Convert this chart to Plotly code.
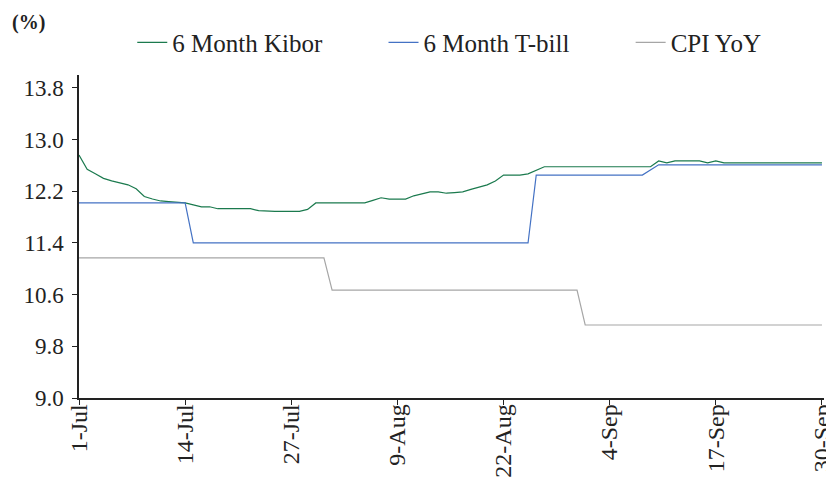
import pandas as pd
import plotly.graph_objects as go

dates = pd.date_range("2019-07-01", "2019-09-30", freq="D")

kibor = [12.76, 12.54, 12.47, 12.40, 12.36, 12.33, 12.30, 12.24, 12.12, 12.08,
         12.05, 12.04, 12.03, 12.02, 11.99, 11.96, 11.96, 11.93, 11.93, 11.93,
         11.93, 11.93, 11.90, 11.89, 11.89, 11.89, 11.89, 11.89, 11.92, 12.02,
         12.02, 12.02, 12.02, 12.02, 12.02, 12.02, 12.06, 12.10, 12.08, 12.08,
         12.08, 12.13, 12.16, 12.19, 12.19, 12.17, 12.18, 12.19, 12.23, 12.27,
         12.30, 12.36, 12.45, 12.45, 12.45, 12.47, 12.52, 12.58, 12.58, 12.58,
         12.58, 12.58, 12.58, 12.58, 12.58, 12.58, 12.58, 12.58, 12.58, 12.58,
         12.58, 12.67, 12.64, 12.67, 12.67, 12.67, 12.67, 12.64, 12.67, 12.64,
         12.64, 12.64, 12.64, 12.64, 12.64, 12.64, 12.64, 12.64, 12.64, 12.64,
         12.64, 12.64]

tbill_dates = ["2019-07-01", "2019-07-14", "2019-07-15", "2019-08-25",
               "2019-08-26", "2019-09-08", "2019-09-10", "2019-09-30"]
tbill = [12.02, 12.02, 11.40, 11.40, 12.45, 12.45, 12.61, 12.61]

cpi_dates = ["2019-07-01", "2019-07-31", "2019-08-01", "2019-08-31",
             "2019-09-01", "2019-09-30"]
cpi = [11.17, 11.17, 10.67, 10.67, 10.13, 10.13]

series_names = ["6 Month Kibor", "6 Month T-bill", "CPI YoY"]

tick_vals = ["2019-07-01", "2019-07-14", "2019-07-27", "2019-08-09",
             "2019-08-22", "2019-09-04", "2019-09-17", "2019-09-30"]
tick_text = ["1-Jul", "14-Jul", "27-Jul", "9-Aug", "22-Aug", "4-Sep", "17-Sep", "30-Sep"]
y_ticks = [9.0, 9.8, 10.6, 11.4, 12.2, 13.0, 13.8]

FONT = "Liberation Serif"
PAD = "\u00a0" * 9

fig = go.Figure()
fig.add_trace(go.Scatter(x=list(dates), y=kibor, mode="lines", name=series_names[0] + PAD,
                         line=dict(color="#1b7a4e", width=1.2)))
fig.add_trace(go.Scatter(x=tbill_dates, y=tbill, mode="lines", name=series_names[1] + PAD,
                         line=dict(color="#4472c4", width=1.2)))
fig.add_trace(go.Scatter(x=cpi_dates, y=cpi, mode="lines", name=series_names[2],
                         line=dict(color="#a6a6a6", width=1.2)))

# page body has an 8px margin; size the figure so the plot lands where the reference has it
fig.update_layout(
    width=826, height=483,
    margin=dict(l=71, r=10, t=67, b=93, autoexpand=False),
    paper_bgcolor="white", plot_bgcolor="white",
    font=dict(family=FONT, size=22, color="#222222"),
    showlegend=True,
    legend=dict(orientation="h", x=0.0715, xanchor="left", y=1.10, yanchor="middle",
                font=dict(family=FONT, size=25, color="#222222"),
                bgcolor="rgba(0,0,0,0)"),
    annotations=[dict(text="<b>(%)</b>", xref="paper", yref="paper",
                      x=-0.093, y=1.164, xanchor="left", yanchor="middle",
                      showarrow=False, font=dict(family=FONT, size=20, color="#222222"))],
)
fig.update_xaxes(
    type="date", range=["2019-07-01", "2019-09-30 06:00"],
    tickmode="array", tickvals=tick_vals, ticktext=tick_text, tickangle=-90,
    showline=True, linecolor="#222222", linewidth=1.5,
    ticks="outside", ticklen=5, tickcolor="#222222",
    showgrid=False, zeroline=False, automargin=False,
    ticklabelstandoff=-10, ticklabeloverflow="allow",
    tickfont=dict(family=FONT, size=24, color="#222222"),
)
fig.update_yaxes(
    range=[9.0, 14.0], tickmode="array",
    tickvals=y_ticks, ticktext=[f"{v:.1f}" for v in y_ticks],
    showline=True, linecolor="#222222", linewidth=1.5,
    ticks="outside", ticklen=5, tickcolor="#222222",
    showgrid=False, zeroline=False, automargin=False,
    ticklabelstandoff=4,
    tickfont=dict(family=FONT, size=23, color="#222222"),
)

fig.write_html("out.html")
